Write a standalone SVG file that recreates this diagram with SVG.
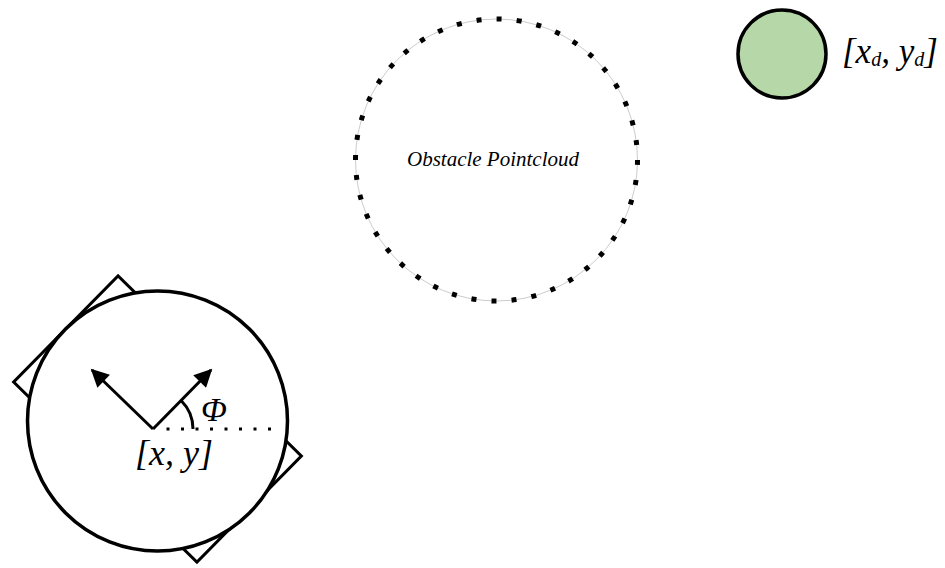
<svg xmlns="http://www.w3.org/2000/svg" width="945" height="568" viewBox="0 0 945 568">
  <defs>
    <style>
      text { font-family: "Liberation Serif", "Times New Roman", serif; font-style: italic; fill: #000; }
      .stk { fill: none; stroke: #000; stroke-width: 3; }
    </style>
    <marker id="ah" viewBox="0 0 10 10" refX="9" refY="5" markerWidth="7" markerHeight="6" markerUnits="strokeWidth" orient="auto">
      <path d="M0,0 L10,5 L0,10 Z" fill="#000"/>
    </marker>
  </defs>
  <rect width="945" height="568" fill="#fff"/>

  <g id="obstacle">
    <circle cx="496.5" cy="160" r="141" fill="none" stroke="#cccccc" stroke-width="1"/>
    <circle cx="496.5" cy="160" r="141" fill="none" stroke="#000" stroke-width="5" stroke-dasharray="5 15.13"/>
    <text x="493" y="166" font-size="21" text-anchor="middle" fill="#333">Obstacle Pointcloud</text>
  </g>

  <g id="goal">
    <circle cx="782" cy="54" r="44" fill="#b6d7a8" stroke="#000" stroke-width="3.5"/>
    <text x="842" y="63" font-size="35">[x<tspan font-size="20" dy="3">d</tspan><tspan dy="-3">, y</tspan><tspan font-size="20" dy="3">d</tspan><tspan dy="-3">]</tspan></text>
  </g>

  <g id="robot">
    <rect x="-128.5" y="-74.5" width="257" height="149" fill="#fff" stroke="#000" stroke-width="3" transform="translate(157.5,419) rotate(44.5)"/>
    <circle cx="157.5" cy="421" r="130" fill="#fff" stroke="#000" stroke-width="3.5"/>
    <text x="174" y="465" font-size="36" text-anchor="middle">[x, y]</text>
    <text x="201" y="421" font-size="34">Φ</text>
  </g>

  <g id="connectors">
    <line class="stk" x1="153" y1="429" x2="92" y2="370" marker-end="url(#ah)"/>
    <line class="stk" x1="153" y1="429" x2="211" y2="370" marker-end="url(#ah)"/>
    <line x1="166.5" y1="429" x2="275" y2="429" stroke="#000" stroke-width="3" stroke-dasharray="3 11.5"/>
    <path class="stk" d="M181.3,400.7 A40,40 0 0 1 193,429" stroke-width="2.5"/>
  </g>
</svg>
